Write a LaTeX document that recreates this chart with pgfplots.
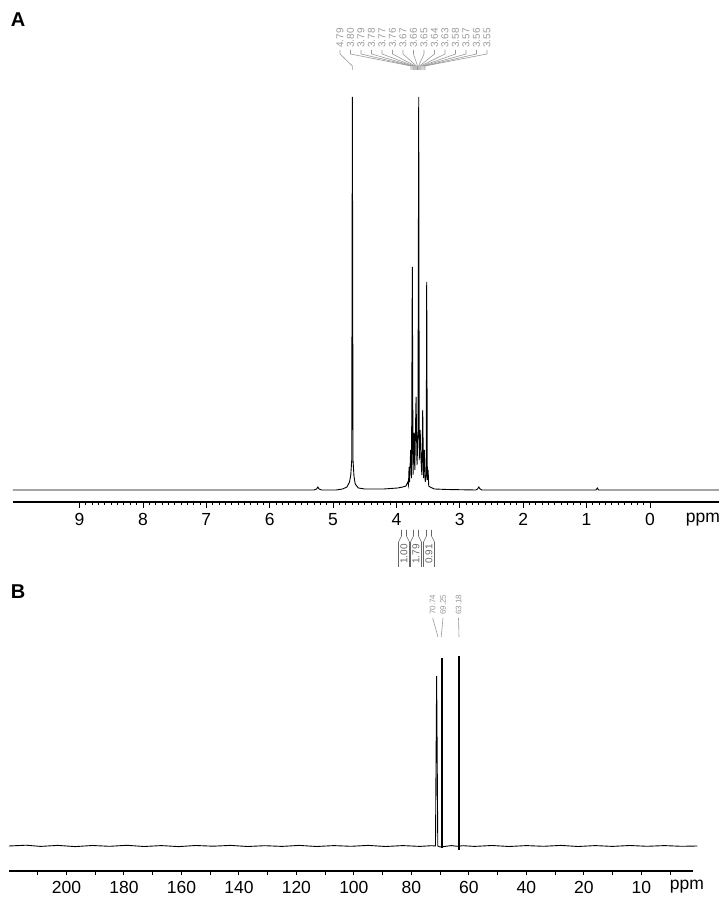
\documentclass[border=0pt]{standalone}
\usepackage{fontspec}
\setmainfont{Liberation Sans}
\usepackage{pgfplots}
\pgfplotsset{compat=1.18}
\definecolor{annot}{gray}{0.6}
\begin{document}
\begin{tikzpicture}[x=1pt,y=1pt]
\useasboundingbox (0,0) rectangle (724,900);
% ---------------- Panel A : 1H ----------------
\begin{axis}[
  at={(13pt,398pt)}, anchor=south west,
  scale only axis, width=706pt, height=422pt,
  xmin=-1.09, xmax=10.05, ymin=-12, ymax=410,
  x dir=reverse,
  axis x line=bottom, axis y line=none,
  axis line style={line width=1.2pt,-},
  xtick={0,...,9}, minor x tick num=9,
  xtick align=outside,
  major tick length=6pt, minor tick length=3.2pt,
  every tick/.style={black, line width=0.8pt},
  xticklabel style={font=\fontsize{17.5}{17.5}\selectfont, anchor=center, inner sep=0pt, yshift=-11.5pt},
  /pgf/number format/assume math mode=true,
  clip=false,
]
\addplot[black, line width=0.9pt] coordinates {
(10.05,0) (5.30,0) (5.26,1) (5.24,3) (5.22,1) (5.18,0) (4.95,0) (4.85,1) (4.78,3)
(4.74,8) (4.72,15) (4.705,30) (4.695,393) (4.685,30) (4.67,14) (4.65,6) (4.60,2)
(4.50,1) (4.20,1) (3.98,2) (3.90,3) (3.85,4) (3.82,8)
(3.81,5) (3.800,23) (3.793,8) (3.775,40) (3.762,12) (3.749,223) (3.738,15)
(3.722,57) (3.710,20) (3.690,93) (3.675,25) (3.660,55) (3.648,393) (3.640,30)
(3.625,60) (3.612,30) (3.598,15) (3.585,80) (3.572,12) (3.560,40) (3.545,8)
(3.530,15) (3.522,208) (3.512,10) (3.500,20) (3.490,4) (3.47,3) (3.40,1) (3.2,0.5)
(2.75,0) (2.72,1) (2.70,3) (2.68,1) (2.65,0) (0.85,0) (0.83,2) (0.81,0) (-1.09,0)
};
\end{axis}
\node[font=\fontsize{17.5}{17.5}\selectfont, inner sep=0pt] at (703,380) {ppm};
% ---------------- Panel B : 13C ----------------
\begin{axis}[
  at={(9pt,29pt)}, anchor=south west,
  scale only axis, width=684pt, height=225pt,
  xmin=-18, xmax=220, ymin=-25, ymax=200,
  x dir=reverse,
  axis x line=bottom, axis y line=none,
  axis line style={line width=1.4pt,-},
  xtick={0,20,...,200},
  xticklabels={10,20,40,60,80,100,120,140,160,180,200},
  minor xtick={-10,10,...,210},
  xtick align=outside,
  major tick length=4.5pt, minor tick length=4.5pt,
  every tick/.style={black, line width=1pt},
  xticklabel style={font=\fontsize{17.5}{17.5}\selectfont, anchor=center, inner sep=0pt, yshift=-12pt},
  /pgf/number format/assume math mode=true,
  clip=false,
]
\addplot[black, line width=0.9pt] coordinates {
(220,0) (214,0.8) (209,-0.4) (203,0.6) (197,-0.6) (191,0.5) (185,-0.3) (179,0.7)
(173,-0.5) (167,0.4) (161,-0.6) (155,0.5) (149,-0.2) (143,0.6) (137,-0.5) (131,0.3)
(125,-0.4) (119,0.6) (113,-0.5) (107,0.4) (101,-0.3) (95,0.6) (89,-0.5) (83,0.4)
(77,-0.4) (73,0.3) (71.6,0) (71.2,170) (70.8,0) (70,-1) (66,0.4) (64,-0.3)
(62,0.3) (58,-0.4) (52,0.5) (46,-0.5) (40,0.4) (34,-0.3) (28,0.6) (22,-0.5)
(16,0.4) (10,-0.4) (4,0.5) (-2,-0.3) (-8,0.4) (-14,-0.3) (-19.5,0)
};
\addplot[black, line width=2.3pt] coordinates {(69.45,-2) (69.45,188)};
\addplot[black, line width=2.3pt] coordinates {(63.33,-4) (63.33,190)};
\end{axis}
\node[font=\fontsize{17.5}{17.5}\selectfont, inner sep=0pt] at (687,13) {ppm};
% ---------------- Panel letters ----------------
\node[font=\bfseries\fontsize{20}{20}\selectfont, inner sep=0pt] at (18,880.5) {A};
\node[font=\bfseries\fontsize{20}{20}\selectfont, inner sep=0pt] at (18,308) {B};
% ---------------- A peak labels ----------------
\begin{scope}[annot, line width=0.6pt]
\foreach \xl/\pk/\t in {340/352.4/4.79, 350.5/411/3.80, 361/412.1/3.79, 371.5/413.2/3.78,
  382/414.2/3.77, 392.5/415.3/3.76, 403/416.4/3.67, 413.5/417.5/3.66, 424/418.6/3.65,
  434.5/419.6/3.64, 445/420.7/3.63, 455.5/421.8/3.58, 466/422.9/3.57, 476.5/424/3.56, 487/425/3.55}{
  \node[rotate=90, anchor=west, inner sep=0pt, font=\fontsize{10}{10}\selectfont] at (\xl,852) {\t};
  \draw (\xl,850) -- (\xl,846) -- (\pk,834) -- (\pk,830);
}
\end{scope}
% ---------------- A integrals ----------------
\begin{scope}[gray!80!black, line width=0.6pt]
\foreach \c/\t in {404/1.00, 416/1.79, 429/0.91}{
  \node[rotate=90, anchor=west, inner sep=0pt, font=\fontsize{10}{10}\selectfont] at (\c,336) {\t};
  \draw (\c-5.5,333) -- (\c-5.5,358) -- (\c-2.5,364) -- (\c-2.5,370);
  \draw (\c+5.5,333) -- (\c+5.5,358) -- (\c+2.5,364) -- (\c+2.5,370);
}
\end{scope}
% ---------------- B peak labels ----------------
\begin{scope}[annot, line width=0.6pt]
\foreach \xl/\pk/\t in {432.7/438/70.74, 443/441.2/69.25, 458.5/459/63.18}{
  \node[rotate=90, anchor=west, inner sep=0pt, font=\fontsize{8}{8}\selectfont] at (\xl,285) {\t};
  \draw (\xl,282) -- (\pk,263);
}
\end{scope}
\end{tikzpicture}
\end{document}
